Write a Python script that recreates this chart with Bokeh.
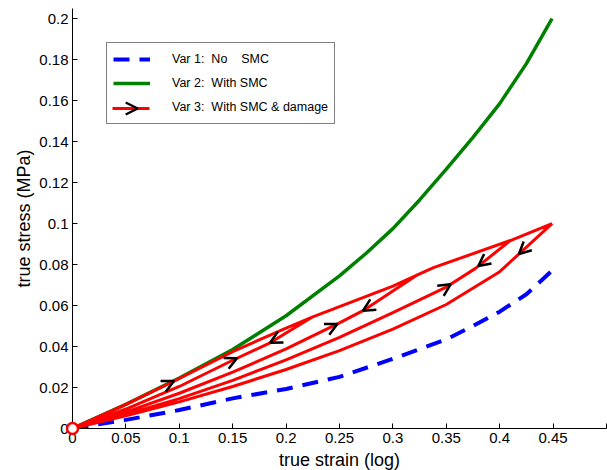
import numpy as np
from bokeh.plotting import figure
from bokeh.models import ColumnDataSource, Legend, LegendItem, Arrow, OpenHead, FixedTicker
from bokeh.embed import file_html
from bokeh.resources import INLINE

# ---------------- data ----------------
# Var 1: No SMC
var1_strain = [0, 0.05, 0.1, 0.15, 0.2, 0.25, 0.3, 0.35, 0.375, 0.4, 0.425, 0.449]
var1_stress = [0, 0.0042, 0.0090, 0.0147, 0.0193, 0.0252, 0.0340, 0.0435, 0.0500, 0.0570, 0.0655, 0.0770]

# Var 2: With SMC
var2_strain = [0, 0.05, 0.1, 0.15, 0.2, 0.25, 0.275, 0.3, 0.325, 0.35, 0.375, 0.4, 0.425, 0.449]
var2_stress = [0, 0.0118, 0.0246, 0.0385, 0.0550, 0.0745, 0.0855, 0.0975, 0.1115, 0.1265, 0.1420, 0.1585, 0.1780, 0.2000]

# Var 3: With SMC & damage -- primary (virgin) loading curve
virgin_strain = [0, 0.05, 0.1, 0.15, 0.2, 0.225, 0.25, 0.3, 0.323, 0.338, 0.41, 0.449]
virgin_stress = [0, 0.0118, 0.0244, 0.0375, 0.0490, 0.0545, 0.0595, 0.0695, 0.0750, 0.0785, 0.0917, 0.1000]

# unloading / reloading curves of the 4 cycles (origin -> peak)
cycle1_strain = [0, 0.05, 0.1, 0.15, 0.185, 0.225]
cycle1_stress = [0, 0.0095, 0.0205, 0.0333, 0.0418, 0.0545]
cycle2_strain = [0, 0.05, 0.1, 0.15, 0.2, 0.25, 0.272, 0.323]
cycle2_stress = [0, 0.0080, 0.0172, 0.0275, 0.0388, 0.0515, 0.0575, 0.0750]
cycle3_strain = [0, 0.05, 0.1, 0.15, 0.2, 0.25, 0.3, 0.35, 0.377, 0.41]
cycle3_stress = [0, 0.0068, 0.0146, 0.0235, 0.0335, 0.0445, 0.0565, 0.0690, 0.0780, 0.0917]
cycle4_strain = [0, 0.05, 0.1, 0.15, 0.2, 0.25, 0.3, 0.35, 0.4, 0.449]
cycle4_stress = [0, 0.0062, 0.0130, 0.0205, 0.0288, 0.0380, 0.0485, 0.0605, 0.0765, 0.1000]

# direction arrows: (curve, strain position, +1 loading / -1 unloading)
arrow_curve = ["virgin", "c1", "c1", "c2", "c2", "c3", "c3", "c4"]
arrow_strain = [0.095, 0.154, 0.185, 0.248, 0.272, 0.354, 0.38, 0.418]
arrow_dir = [1, 1, -1, 1, -1, 1, -1, -1]

x_ticks = [0, 0.05, 0.1, 0.15, 0.2, 0.25, 0.3, 0.35, 0.4, 0.45, 0.5]
x_tick_labels = ["0", "0.05", "0.1", "0.15", "0.2", "0.25", "0.3", "0.35", "0.4", "0.45", ""]
y_ticks = [0, 0.02, 0.04, 0.06, 0.08, 0.1, 0.12, 0.14, 0.16, 0.18, 0.2]
y_tick_labels = ["0", "0.02", "0.04", "0.06", "0.08", "0.1", "0.12", "0.14", "0.16", "0.18", "0.2"]

legend_labels = ["Var 1:\u00a0\u00a0No\u00a0\u00a0\u00a0\u00a0SMC",
                 "Var 2:\u00a0\u00a0With SMC",
                 "Var 3:\u00a0\u00a0With SMC & damage"]

# ---------------- build red path ----------------
cycles = [(cycle1_strain, cycle1_stress), (cycle2_strain, cycle2_stress),
          (cycle3_strain, cycle3_stress), (cycle4_strain, cycle4_stress)]
vx = np.array(virgin_strain)
vy = np.array(virgin_stress)
red_x, red_y = [], []
prev_peak = -1.0
for k, (cx, cy) in enumerate(cycles):
    peak = cx[-1]
    m = (vx > prev_peak) & (vx <= peak + 1e-9)
    red_x += list(vx[m]); red_y += list(vy[m])
    red_x += list(cx[::-1][1:]); red_y += list(cy[::-1][1:])      # unload
    if k < len(cycles) - 1:
        red_x += list(cx[1:]); red_y += list(cy[1:])              # reload
    prev_peak = peak

FONT = "Liberation Sans"
X_END, Y_END = 0.5, 0.2049
FW, FH = 534, 420
RED, GREEN, BLUE = "#ff0000", "#008000", "#0000ff"

p = figure(frame_width=FW, frame_height=FH, x_range=(0, X_END), y_range=(0, Y_END),
           output_backend="svg", toolbar_location=None,
           min_border_left=72, min_border_right=1, min_border_top=8, min_border_bottom=42)
p.outline_line_color = None
p.background_fill_color = "white"
p.border_fill_color = "white"
p.xgrid.visible = False
p.ygrid.visible = False

for ax, ticks, labels in ((p.xaxis[0], x_ticks, x_tick_labels), (p.yaxis[0], y_ticks, y_tick_labels)):
    ax.ticker = FixedTicker(ticks=ticks)
    ax.major_label_overrides = {t: l for t, l in zip(ticks, labels)}
    ax.major_tick_in = 5
    ax.major_tick_out = 0
    ax.minor_tick_line_color = None
    ax.axis_line_color = "black"
    ax.major_tick_line_color = "black"
    ax.major_label_text_font = FONT
    ax.major_label_text_font_size = "15px"
    ax.major_label_text_color = "black"
    ax.axis_label_text_font = FONT
    ax.axis_label_text_font_size = "18px"
    ax.axis_label_text_font_style = "normal"
    ax.axis_label_text_color = "black"
    ax.major_label_standoff = 4

p.xaxis.axis_label_standoff = 4
p.yaxis.axis_label_standoff = 2
p.xaxis.axis_label = "true strain (log)"
p.yaxis.axis_label = "true stress (MPa)"

r1 = p.line(var1_strain, var1_stress, line_color=BLUE, line_width=4, line_dash="16 10")
r2 = p.line(var2_strain, var2_stress, line_color=GREEN, line_width=3.5)
r3 = p.line(red_x, red_y, line_color=RED, line_width=3)
# invisible stand-in for the Var 3 legend swatch (drawn by hand below, with its chevron)
r3_leg = p.line([], [], line_color=RED, line_alpha=0)

# arrows computed from the red curves
curves = {"virgin": (virgin_strain, virgin_stress), "c1": cycles[0], "c2": cycles[1],
          "c3": cycles[2], "c4": cycles[3]}
xs0, ys0, xs1, ys1 = [], [], [], []
for c, x0, d in zip(arrow_curve, arrow_strain, arrow_dir):
    cx, cy = curves[c]
    y0 = float(np.interp(x0, cx, cy))
    h = 0.004
    slope = (np.interp(x0 + h, cx, cy) - np.interp(x0 - h, cx, cy)) / (2 * h)
    dx = 0.01 * d
    xs0.append(x0 - dx); ys0.append(y0 - dx * slope)
    xs1.append(x0); ys1.append(y0)
asrc = ColumnDataSource(dict(x0=xs0, y0=ys0, x1=xs1, y1=ys1))
p.add_layout(Arrow(end=OpenHead(size=12, line_width=2.5, line_color="black"),
                   x_start="x0", y_start="y0", x_end="x1", y_end="y1",
                   source=asrc, line_alpha=0))

# origin marker (open red circle), drawn above the axes
origin_src = ColumnDataSource(dict(x=[red_x[0]], y=[red_y[0]]))
p.scatter("x", "y", source=origin_src, size=11, marker="circle", fill_color="white",
          line_color=RED, line_width=2.5, level="overlay")

# legend box: left edge 34 px into the frame, bottom edge 304 px above the frame bottom
LEG_X, LEG_Y, PAD, GW, LH = 34, 304, 6, 37, 20
legend = Legend(items=[LegendItem(label=legend_labels[0], renderers=[r1]),
                       LegendItem(label=legend_labels[1], renderers=[r2]),
                       LegendItem(label=legend_labels[2], renderers=[r3_leg])],
                location=(LEG_X, LEG_Y), glyph_width=GW, glyph_height=LH, label_height=LH,
                label_standoff=22, spacing=4, padding=PAD, margin=0,
                label_text_font=FONT, label_text_font_size="12.5px", label_text_color="black",
                border_line_color="black", border_line_width=1,
                background_fill_alpha=0)
p.add_layout(legend)

# hand-drawn Var 3 swatch: red line + black chevron (pixel offsets -> data units)
def dx_(px): return px * X_END / FW
def dy_(px): return px * Y_END / FH
sw_y = LEG_Y + PAD + LH / 2
sw_src = ColumnDataSource(dict(x0=[dx_(LEG_X + PAD)], x1=[dx_(LEG_X + PAD + GW)],
                               y0=[dy_(sw_y)], y1=[dy_(sw_y)]))
p.segment("x0", "y0", "x1", "y1", source=sw_src, line_color=RED, line_width=3)
tip = LEG_X + PAD + GW * 0.68
chev_src = ColumnDataSource(dict(x0=[dx_(tip - 8)], y0=[dy_(sw_y)], x1=[dx_(tip)], y1=[dy_(sw_y)]))
p.add_layout(Arrow(end=OpenHead(size=12, line_width=2.5, line_color="black"),
                   x_start="x0", y_start="y0", x_end="x1", y_end="y1",
                   source=chev_src, line_alpha=0))

open("out.html", "w").write(file_html(p, INLINE))
